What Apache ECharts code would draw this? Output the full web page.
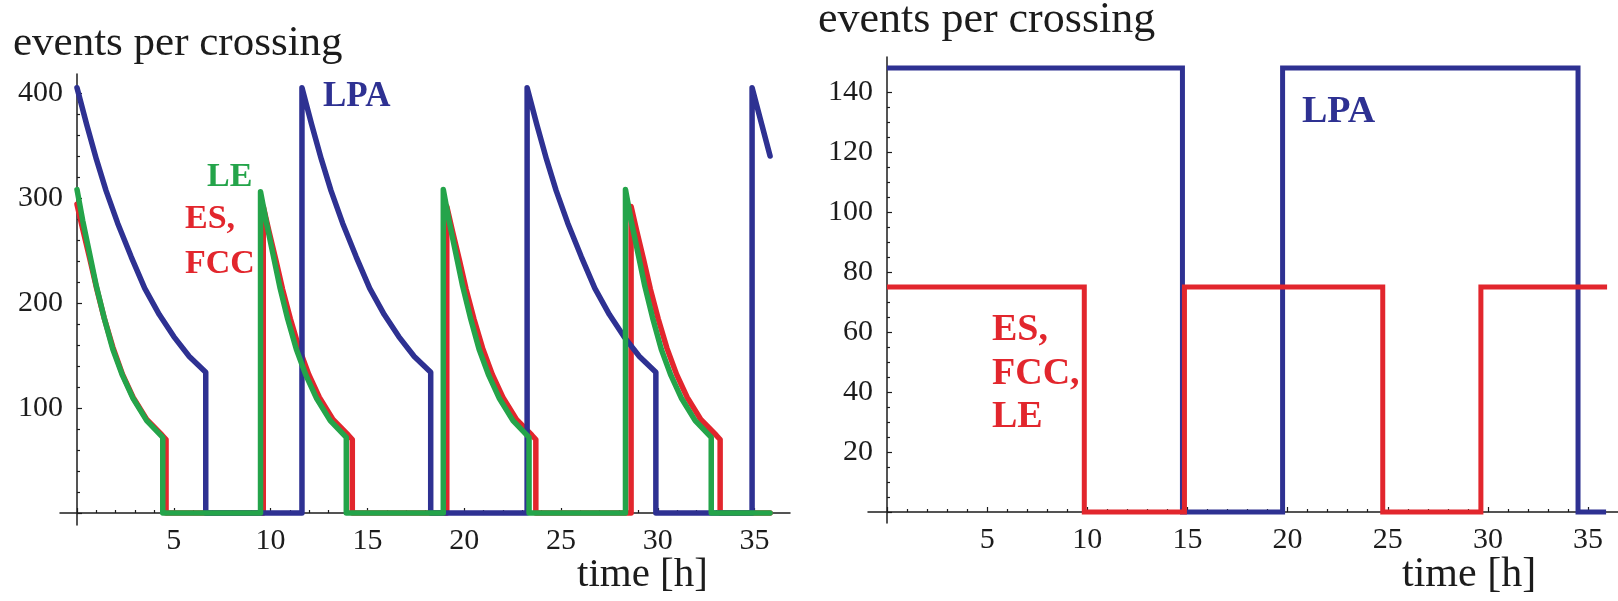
<!DOCTYPE html>
<html>
<head>
<meta charset="utf-8">
<script src="https://cdn.jsdelivr.net/npm/echarts@6/dist/echarts.min.js"></script>
<style>
  html, body { margin: 0; padding: 0; background: #ffffff; }
  #chart { width: 1618px; height: 601px; }
</style>
</head>
<body>
<div id="chart"></div>
<script>
// ---------------- data: left panel (luminosity-levelled filling schemes) ----------------
// [time in h, events per crossing]
const lpaLeft = [
  [0, 405], [0.5, 370], [1.0, 337], [1.5, 307], [2.1, 276], [2.8, 244], [3.5, 214], [4.25, 189], [5.0, 168], [5.8, 149], [6.65, 134], [6.65, 0],
  [11.62, 0], [11.62, 405], [12.12, 370], [12.62, 337], [13.12, 307], [13.72, 276], [14.42, 244], [15.12, 214], [15.87, 189], [16.62, 168], [17.42, 149], [18.27, 134], [18.27, 0],
  [23.25, 0], [23.25, 405], [23.75, 370], [24.25, 337], [24.75, 307], [25.35, 276], [26.05, 244], [26.75, 214], [27.5, 189], [28.25, 168], [29.05, 149], [29.9, 134], [29.9, 0],
  [34.87, 0], [34.87, 405], [35.37, 370], [35.8, 340]
];
const leLeft = [
  [0, 308], [0.3, 278], [0.65, 247], [1.0, 216], [1.4, 186], [1.85, 156], [2.35, 131], [2.9, 109], [3.6, 88], [4.43, 72], [4.43, 0],
  [9.48, 0], [9.48, 306], [9.78, 277], [10.13, 246], [10.48, 215], [10.88, 185], [11.33, 156], [11.83, 131], [12.38, 109], [13.08, 88], [13.91, 72], [13.91, 0],
  [18.92, 0], [18.92, 308], [19.22, 278], [19.57, 247], [19.92, 216], [20.32, 186], [20.77, 156], [21.27, 131], [21.82, 109], [22.52, 88], [23.35, 72], [23.35, 0],
  [28.33, 0], [28.33, 308], [28.63, 278], [28.98, 247], [29.33, 216], [29.73, 186], [30.18, 156], [30.68, 131], [31.23, 109], [31.93, 88], [32.76, 72], [32.76, 0],
  [35.8, 0]
];
const esFccLeft = [
  [0, 294], [0.3, 270], [0.65, 243], [1.0, 215], [1.4, 186], [1.85, 158], [2.35, 132], [2.9, 110], [3.6, 89], [4.4, 74], [4.6, 70], [4.6, 0],
  [9.62, 0], [9.62, 292], [9.92, 268], [10.27, 241], [10.62, 213], [11.02, 185], [11.47, 157], [11.97, 132], [12.52, 110], [13.22, 89], [14.02, 74], [14.22, 70], [14.22, 0],
  [19.1, 0], [19.1, 292], [19.4, 268], [19.75, 241], [20.1, 213], [20.5, 185], [20.95, 157], [21.45, 132], [22.0, 110], [22.7, 89], [23.5, 74], [23.7, 70], [23.7, 0],
  [28.62, 0], [28.62, 292], [28.92, 268], [29.27, 241], [29.62, 213], [30.02, 185], [30.47, 157], [30.97, 132], [31.52, 110], [32.22, 89], [33.02, 74], [33.22, 70], [33.22, 0],
  [35.8, 0]
];

// ---------------- data: right panel (constant pile-up schemes) ----------------
const lpaRight = [
  [0, 148], [14.75, 148], [14.75, 0], [19.75, 0], [19.75, 148], [34.5, 148], [34.5, 0], [35.9, 0]
];
const esFccLeRight = [
  [0, 75], [9.85, 75], [9.85, 0], [14.85, 0], [14.85, 75], [24.75, 75], [24.75, 0], [29.65, 0], [29.65, 75], [35.95, 75]
];

// ---------------- text ----------------
const yTitle = 'events per crossing';
const xTitle = 'time [h]';

// ---------------- styling ----------------
const BLUE = '#2e3192';
const RED = '#e2262d';
const GREEN = '#24a44a';
const INK = '#1c1c1c';
const SERIF = '"Liberation Serif", "Times New Roman", serif';

// Panel geometry: pixel position of the origin, pixels per unit, and axis line extents.
const leftPanel = {
  x0: 77, y0: 513, sx: 19.36, sy: 1.05,
  xFrom: 60, xTo: 790, yTop: 74, yBottom: 525,
  xTickMax: 35, xStep: 5, xMinor: 5,
  yTickMax: 400, yStep: 100, yMinor: 5
};
const rightPanel = {
  x0: 887, y0: 512, sx: 20.03, sy: 3.0,
  xFrom: 868, xTo: 1618, yTop: 57, yBottom: 523,
  xTickMax: 35, xStep: 5, xMinor: 5,
  yTickMax: 140, yStep: 20, yMinor: 4
};

const grids = [];
const xAxes = [];
const yAxes = [];

function addPanel(p) {
  const dataIndex = grids.length;
  // grid carrying the data and the crossing axis lines
  grids.push({
    left: p.xFrom, top: p.yTop,
    width: p.xTo - p.xFrom, height: p.yBottom - p.yTop,
    outerBoundsMode: 'none', containLabel: false
  });
  xAxes.push({
    gridIndex: dataIndex, type: 'value',
    min: (p.xFrom - p.x0) / p.sx, max: (p.xTo - p.x0) / p.sx,
    axisLine: { show: true, onZero: true, lineStyle: { color: INK, width: 1.5 } },
    axisTick: { show: false }, axisLabel: { show: false }, splitLine: { show: false }
  });
  yAxes.push({
    gridIndex: dataIndex, type: 'value',
    min: -(p.yBottom - p.y0) / p.sy, max: (p.y0 - p.yTop) / p.sy,
    axisLine: { show: true, onZero: true, lineStyle: { color: INK, width: 1.5 } },
    axisTick: { show: false }, axisLabel: { show: false }, splitLine: { show: false }
  });
  // grid carrying only ticks and tick labels, aligned to the same origin and scale
  const tickIndex = grids.length;
  grids.push({
    left: p.x0, top: p.y0 - p.yTickMax * p.sy,
    width: p.xTickMax * p.sx, height: p.yTickMax * p.sy,
    outerBoundsMode: 'none', containLabel: false
  });
  const tickStyle = { color: INK, width: 1.2 };
  const labelStyle = { fontFamily: SERIF, fontSize: 30, color: INK };
  xAxes.push({
    gridIndex: tickIndex, type: 'value', min: 0, max: p.xTickMax, interval: p.xStep,
    axisLine: { show: false },
    axisTick: { show: true, inside: true, length: 5, lineStyle: tickStyle },
    minorTick: { show: true, splitNumber: p.xMinor, length: 3, lineStyle: tickStyle },
    splitLine: { show: false }, minorSplitLine: { show: false },
    axisLabel: Object.assign({ margin: 13, formatter: v => (v === 0 ? '' : String(v)) }, labelStyle)
  });
  yAxes.push({
    gridIndex: tickIndex, type: 'value', min: 0, max: p.yTickMax, interval: p.yStep,
    axisLine: { show: false },
    axisTick: { show: true, inside: true, length: 5, lineStyle: tickStyle },
    minorTick: { show: true, splitNumber: p.yMinor, length: 3, lineStyle: tickStyle },
    splitLine: { show: false }, minorSplitLine: { show: false },
    axisLabel: Object.assign({ margin: 14, formatter: v => (v === 0 ? '' : String(v)) }, labelStyle)
  });
  return dataIndex;
}

const leftIdx = addPanel(leftPanel);
const rightIdx = addPanel(rightPanel);

function curve(name, data, color, axisIndex, z, join, width) {
  return {
    type: 'line', name: name, data: data,
    xAxisIndex: axisIndex, yAxisIndex: axisIndex,
    showSymbol: false, symbol: 'none', silent: true, z: z,
    lineStyle: { color: color, width: width, cap: join === 'round' ? 'round' : 'butt', join: join }
  };
}

const series = [
  curve('ES, FCC', esFccLeft, RED, leftIdx, 2, 'round', 5.5),
  curve('LPA', lpaLeft, BLUE, leftIdx, 3, 'round', 5.5),
  curve('LE', leLeft, GREEN, leftIdx, 4, 'round', 5.5),
  curve('LPA', lpaRight, BLUE, rightIdx, 3, 'miter', 5),
  curve('ES, FCC, LE', esFccLeRight, RED, rightIdx, 4, 'miter', 5)
];

function label(text, x, y, size, color, bold) {
  return {
    type: 'text', x: x, y: y, silent: true, z: 10,
    style: {
      text: text, fill: color,
      font: (bold ? 'bold ' : '') + size + 'px ' + SERIF,
      align: 'left', verticalAlign: 'middle',
      textAlign: 'left', textVerticalAlign: 'middle'
    }
  };
}

const graphic = [
  // left panel
  label(yTitle, 13, 44, 43, INK, false),
  label(xTitle, 577, 575, 41, INK, false),
  label('LPA', 323, 97, 35, BLUE, true),
  label('LE', 207, 177, 34, GREEN, true),
  label('ES,', 185, 219, 34, RED, true),
  label('FCC', 185, 264, 34, RED, true),
  // right panel
  label(yTitle, 818, 20, 44, INK, false),
  label(xTitle, 1402, 575, 42, INK, false),
  label('LPA', 1302, 112, 38, BLUE, true),
  label('ES,', 992, 330, 38, RED, true),
  label('FCC,', 992, 374, 38, RED, true),
  label('LE', 992, 417, 38, RED, true)
];

const chart = echarts.init(document.getElementById('chart'), null, { renderer: 'canvas', width: 1618, height: 601 });
chart.setOption({
  animation: false,
  backgroundColor: '#ffffff',
  grid: grids,
  xAxis: xAxes,
  yAxis: yAxes,
  series: series,
  graphic: graphic
});
</script>
</body>
</html>
